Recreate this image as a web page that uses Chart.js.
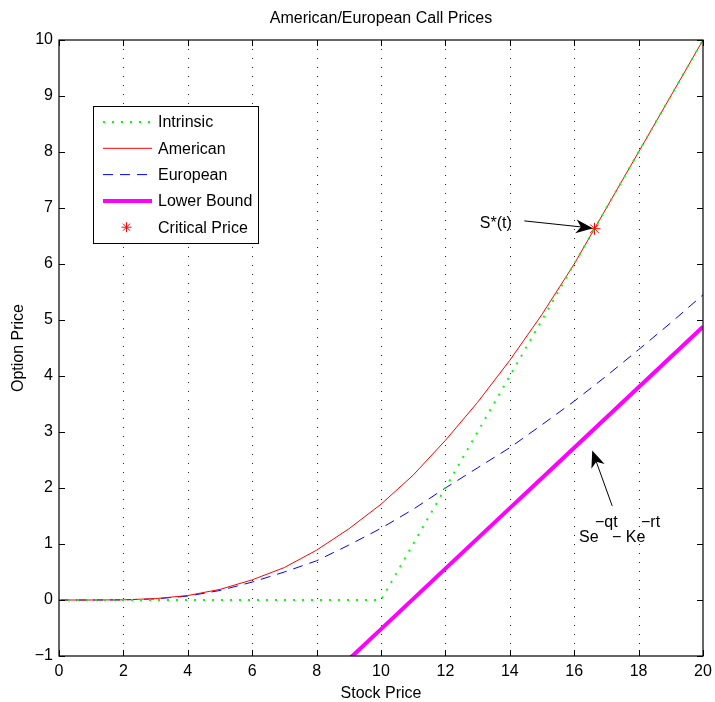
<!DOCTYPE html>
<html>
<head>
<meta charset="utf-8">
<title>American/European Call Prices</title>
<script src="https://cdn.jsdelivr.net/npm/chart.js@4.4.0/dist/chart.umd.min.js"></script>
<style>
html, body { margin: 0; padding: 0; background: #fff; }
</style>
</head>
<body>
<canvas id="callChart" width="715" height="702"></canvas>
<script>
// stock price grid (strike K = 10)
var stockPrice = [0, 1, 2, 3, 4, 5, 6, 7, 8, 9, 10, 11, 12, 13, 14, 15, 16, 17, 18, 19, 20];
var intrinsic  = [0, 0, 0, 0, 0, 0, 0, 0, 0, 0, 0, 1, 2, 3, 4, 5, 6, 7, 8, 9, 10];
var american   = [0, 0, 0.003, 0.025, 0.08, 0.19, 0.36, 0.58, 0.89, 1.27, 1.71, 2.23, 2.85, 3.53, 4.28, 5.1, 6.0, 7, 8, 9, 10];
var european   = [0, 0, 0.002, 0.02, 0.07, 0.17, 0.32, 0.5, 0.7, 0.98, 1.28, 1.62, 2.0, 2.36, 2.72, 3.13, 3.55, 4.0, 4.47, 4.95, 5.45];
var lowerBound = [-5.92, -5.38, -4.84, -4.3, -3.76, -3.22, -2.68, -2.14, -1.6, -1.06, -0.52, 0.02, 0.56, 1.1, 1.64, 2.18, 2.72, 3.26, 3.8, 4.34, 4.88];
var criticalPrice = [16.63];
var criticalValue = [6.63];
var xTicks = [0, 2, 4, 6, 8, 10, 12, 14, 16, 18, 20];
var yTicks = [-1, 0, 1, 2, 3, 4, 5, 6, 7, 8, 9, 10];

var FONT = "'Liberation Sans', Arial, Helvetica, sans-serif";

function toPoints(xs, ys) {
    return xs.map(function (x, i) { return { x: x, y: ys[i] }; });
}

function drawStar(ctx, x, y, r) {
    var d = r * Math.SQRT1_2;
    ctx.beginPath();
    ctx.moveTo(x - r, y); ctx.lineTo(x + r, y);
    ctx.moveTo(x, y - r); ctx.lineTo(x, y + r);
    ctx.moveTo(x - d, y - d); ctx.lineTo(x + d, y + d);
    ctx.moveTo(x - d, y + d); ctx.lineTo(x + d, y - d);
    ctx.stroke();
}

function drawArrow(ctx, x1, y1, x2, y2) {
    var ang = Math.atan2(y2 - y1, x2 - x1),
        len = 17, half = 7, notch = 5,
        c = Math.cos(ang), s = Math.sin(ang);
    var bx = x2 - len * c, by = y2 - len * s;
    ctx.beginPath();
    ctx.moveTo(x1, y1);
    ctx.lineTo(bx + notch * c, by + notch * s);
    ctx.stroke();
    ctx.beginPath();
    ctx.moveTo(x2, y2);
    ctx.lineTo(bx - half * s, by + half * c);
    ctx.lineTo(bx + notch * c, by + notch * s);
    ctx.lineTo(bx + half * s, by - half * c);
    ctx.closePath();
    ctx.fill();
}

// axes box, inner ticks, dotted grid, annotations and legend
var matlabAxes = {
    id: "matlabAxes",
    beforeDatasetsDraw: function (chart) {
        var ctx = chart.ctx, a = chart.chartArea, xs = chart.scales.x;
        ctx.save();
        ctx.strokeStyle = "#222";
        ctx.lineWidth = 1;
        ctx.setLineDash([1, 8]);
        xTicks.forEach(function (v) {
            if (v === xs.min || v === xs.max) return;
            var px = Math.round(xs.getPixelForValue(v)) + 0.5;
            ctx.beginPath();
            ctx.moveTo(px, a.top);
            ctx.lineTo(px, a.bottom);
            ctx.stroke();
        });
        ctx.restore();
    },
    afterDatasetsDraw: function (chart) {
        var ctx = chart.ctx, a = chart.chartArea,
            xs = chart.scales.x, ys = chart.scales.y, tl = 6;
        ctx.save();
        ctx.strokeStyle = "#000";
        ctx.lineWidth = 1.2;
        ctx.strokeRect(a.left, a.top, a.right - a.left, a.bottom - a.top);
        ctx.lineWidth = 1;
        ctx.beginPath();
        xTicks.forEach(function (v) {
            var px = Math.round(xs.getPixelForValue(v)) + 0.5;
            ctx.moveTo(px, a.bottom); ctx.lineTo(px, a.bottom - tl);
            ctx.moveTo(px, a.top); ctx.lineTo(px, a.top + tl);
        });
        yTicks.forEach(function (v) {
            var py = Math.round(ys.getPixelForValue(v)) + 0.5;
            ctx.moveTo(a.left, py); ctx.lineTo(a.left + tl, py);
            ctx.moveTo(a.right, py); ctx.lineTo(a.right - tl, py);
        });
        ctx.stroke();

        // annotations
        ctx.fillStyle = "#000";
        ctx.font = "16px " + FONT;
        ctx.textBaseline = "middle";
        ctx.textAlign = "right";
        ctx.fillText("S*(t)", xs.getPixelForValue(14.06), ys.getPixelForValue(6.72));
        drawArrow(ctx, xs.getPixelForValue(14.45), ys.getPixelForValue(6.77),
                  xs.getPixelForValue(16.58), ys.getPixelForValue(6.64));
        drawArrow(ctx, xs.getPixelForValue(17.18), ys.getPixelForValue(1.68),
                  xs.getPixelForValue(16.56), ys.getPixelForValue(2.67));

        ctx.textAlign = "left";
        ctx.textBaseline = "alphabetic";
        var tx = xs.getPixelForValue(16.15), ty = ys.getPixelForValue(1.04);
        ctx.fillText("Se", tx, ty);
        ctx.fillText("\u2212qt", tx + 16, ty - 15);
        ctx.fillText("\u2212 Ke", tx + 33, ty);
        ctx.fillText("\u2212rt", tx + 62, ty - 15);

        // legend
        var lx = a.left + 34, ly = a.top + 66, lw = 165, lh = 137;
        ctx.fillStyle = "#fff";
        ctx.fillRect(lx, ly, lw, lh);
        ctx.strokeStyle = "#000";
        ctx.lineWidth = 1;
        ctx.strokeRect(lx + 0.5, ly + 0.5, lw, lh);
        var rows = chart.data.datasets;
        rows.forEach(function (ds, i) {
            var ry = ly + 16 + i * 26.3, sx0 = lx + 10, sx1 = lx + 59;
            ctx.save();
            ctx.strokeStyle = ds.borderColor;
            ctx.lineWidth = ds.borderWidth;
            if (ds.showLine === false) {
                drawStar(ctx, (sx0 + sx1) / 2 - 1, ry, 5);
            } else {
                ctx.setLineDash(ds.borderDash || []);
                ctx.beginPath();
                ctx.moveTo(sx0, ry);
                ctx.lineTo(sx1, ry);
                ctx.stroke();
            }
            ctx.restore();
            ctx.fillStyle = "#000";
            ctx.textBaseline = "middle";
            ctx.fillText(ds.label, lx + 65, ry + 1);
        });
        ctx.restore();
    },
    afterDraw: function (chart) {
        var ctx = chart.ctx, a = chart.chartArea;
        ctx.save();
        ctx.fillStyle = "#000";
        ctx.font = "16px " + FONT;
        ctx.textAlign = "center";
        ctx.textBaseline = "middle";
        ctx.fillText("American/European Call Prices", (a.left + a.right) / 2, 19);
        ctx.fillText("Stock Price", (a.left + a.right) / 2, 694);
        ctx.translate(19, (a.top + a.bottom) / 2);
        ctx.rotate(-Math.PI / 2);
        ctx.fillText("Option Price", 0, 0);
        ctx.restore();
    }
};

var ctx1 = document.getElementById("callChart").getContext("2d");
var myChart = new Chart(ctx1, {
    type: "line",
    data: {
        datasets: [
            {
                label: "Intrinsic",
                data: toPoints(stockPrice, intrinsic),
                borderColor: "#00ff00",
                borderWidth: 2,
                borderDash: [2, 7],
                pointRadius: 0,
                tension: 0,
            },
            {
                label: "American",
                data: toPoints(stockPrice, american),
                borderColor: "#ff0000",
                borderWidth: 1,
                pointRadius: 0,
                tension: 0,
            },
            {
                label: "European",
                data: toPoints(stockPrice, european),
                borderColor: "#0000ff",
                borderWidth: 1,
                borderDash: [10, 7],
                pointRadius: 0,
                tension: 0,
            },
            {
                label: "Lower Bound",
                data: toPoints(stockPrice, lowerBound),
                borderColor: "#ff00ff",
                borderWidth: 4,
                pointRadius: 0,
                tension: 0,
            },
            {
                label: "Critical Price",
                data: toPoints(criticalPrice, criticalValue),
                borderColor: "#ff0000",
                backgroundColor: "#ff0000",
                borderWidth: 1,
                showLine: false,
                pointStyle: "star",
                pointRadius: 6,
            },
        ],
    },
    options: {
        responsive: false,
        animation: false,
        layout: { padding: { top: 40, right: 12, left: 0, bottom: 0 } },
        plugins: {
            legend: { display: false },
            tooltip: { enabled: false },
            title: { display: false },
        },
        scales: {
            x: {
                type: "linear",
                min: 0,
                max: 20,
                afterBuildTicks: function (s) {
                    s.ticks = xTicks.map(function (v) { return { value: v }; });
                },
                afterFit: function (s) {
                    s.height = 46;
                    s.paddingLeft = 0;
                    s.paddingRight = 0;
                },
                ticks: { color: "#000", font: { family: FONT, size: 16 }, padding: 6, maxRotation: 0 },
                grid: { display: false, drawTicks: false },
                border: { display: false },
            },
            y: {
                min: -1,
                max: 10,
                afterBuildTicks: function (s) {
                    s.ticks = yTicks.map(function (v) { return { value: v }; });
                },
                afterFit: function (s) {
                    s.width = 59;
                    s.paddingTop = 0;
                    s.paddingBottom = 0;
                },
                ticks: {
                    color: "#000",
                    font: { family: FONT, size: 16 },
                    padding: 6,
                    callback: function (v) { return String(v).replace("-", "\u2212"); },
                },
                grid: { display: false, drawTicks: false },
                border: { display: false },
            },
        },
    },
    plugins: [matlabAxes],
});
</script>
</body>
</html>
